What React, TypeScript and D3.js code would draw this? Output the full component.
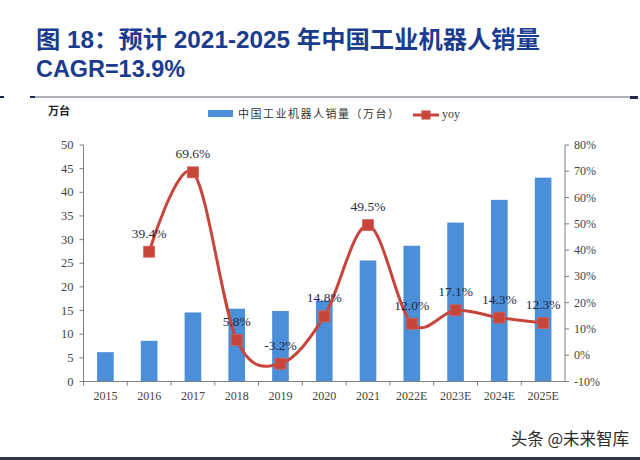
import React from 'react';
import * as d3 from 'd3';

const categories = ['2015', '2016', '2017', '2018', '2019', '2020', '2021', '2022E', '2023E', '2024E', '2025E'];
const sales = [6.2, 8.6, 14.6, 15.4, 14.9, 17.1, 25.6, 28.7, 33.6, 38.4, 43.1];
const yoy: (number | null)[] = [null, 39.4, 69.6, 5.8, -3.2, 14.8, 49.5, 12.0, 17.1, 14.3, 12.3];
const leftTicks = [0, 5, 10, 15, 20, 25, 30, 35, 40, 45, 50];
const rightTicks = [-10, 0, 10, 20, 30, 40, 50, 60, 70, 80];

const W = 640;
const H = 460;
const plot = { left: 83.5, right: 565, top: 145, bottom: 381.5 };
const serif = '"Liberation Serif", "Times New Roman", serif';
const cjk = '"Noto Sans CJK SC", sans-serif';
const BLUE = '#4a8fd8';
const RED = '#c8453c';
const LABEL = '#1f2a44';
const AXIS = '#7f7f7f';

const App: React.FC = () => {
  const x = d3.scaleBand<string>().domain(categories).range([plot.left, plot.right]).padding(0);
  const yL = d3.scaleLinear().domain([0, 50]).range([plot.bottom, plot.top]);
  const yR = d3.scaleLinear().domain([-10, 80]).range([plot.bottom, plot.top]);
  const step = x.step();
  const barW = step * 0.38;
  const cx = (c: string) => (x(c) as number) + step / 2;

  const pts = categories
    .map((c, i) => ({ c, v: yoy[i] }))
    .filter((d) => d.v !== null) as { c: string; v: number }[];

  const line = d3
    .line<{ c: string; v: number }>()
    .x((d) => cx(d.c))
    .y((d) => yR(d.v))
    .curve(d3.curveCardinal.tension(0));

  return (
    <svg width={W} height={H} style={{ display: 'block', position: 'absolute', left: 0, top: 0 }}>
      <rect width={W} height={H} fill="#fff" />
      {/* title */}
      <text x={36} y={48} fontFamily={'"Liberation Sans", Arial, "Noto Sans CJK SC", sans-serif'} fontWeight="bold"
        fontSize={24} fill="#1b3c8e" textLength={504} lengthAdjust="spacingAndGlyphs">
        图 18：预计 2021-2025 年中国工业机器人销量
      </text>
      <text x={36} y={77} fontFamily={'"Liberation Sans", Arial, sans-serif'} fontWeight="bold"
        fontSize={24} fill="#1b3c8e" textLength={149} lengthAdjust="spacingAndGlyphs">
        CAGR=13.9%
      </text>
      <line x1={30} x2={636} y1={97} y2={97} stroke="#5a6478" strokeWidth={1} />
      <rect x={0} y={96} width={4} height={2} fill="#1d2a4a" />
      <rect x={30} y={96} width={5} height={2} fill="#1d2a4a" />
      <rect x={630} y={96} width={8} height={3} fill="#1d2a4a" />

      {/* unit + legend */}
      <text x={48} y={115} fontFamily={cjk} fontWeight="bold" fontSize={11} fill="#222">万台</text>
      <rect x={208} y={110} width={25} height={7} fill={BLUE} />
      <text x={238} y={118} fontFamily={cjk} fontSize={11} fill="#333" letterSpacing={1.5}>中国工业机器人销量（万台）</text>
      <line x1={413} x2={439} y1={115} y2={115} stroke={RED} strokeWidth={3} />
      <rect x={421.5} y={110.5} width={9} height={9} fill={RED} />
      <text x={442} y={118} fontFamily={serif} fontSize={12} fill="#444">yoy</text>

      {/* bars */}
      {categories.map((c, i) => (
        <rect key={c} x={cx(c) - barW / 2} y={yL(sales[i])} width={barW} height={yL(0) - yL(sales[i])} fill={BLUE} />
      ))}

      {/* left axis */}
      <line x1={plot.left} x2={plot.left} y1={plot.top} y2={plot.bottom} stroke={AXIS} />
      {leftTicks.map((t) => (
        <g key={t}>
          <line x1={plot.left - 4} x2={plot.left} y1={yL(t)} y2={yL(t)} stroke={AXIS} />
          <text x={plot.left - 10} y={yL(t) + 4} textAnchor="end" fontFamily={serif} fontSize={12.5} fill="#444">{t}</text>
        </g>
      ))}

      {/* right axis */}
      <line x1={plot.right} x2={plot.right} y1={plot.top} y2={plot.bottom} stroke={AXIS} />
      {rightTicks.map((t) => (
        <g key={t}>
          <line x1={plot.right} x2={plot.right + 4} y1={yR(t)} y2={yR(t)} stroke={AXIS} />
          <text x={plot.right + 9} y={yR(t) + 4} textAnchor="start" fontFamily={serif} fontSize={12} fill="#444">{`${t}%`}</text>
        </g>
      ))}

      {/* x axis */}
      <line x1={plot.left} x2={plot.right} y1={plot.bottom} y2={plot.bottom} stroke={AXIS} />
      {categories.map((c) => (
        <line key={'t' + c} x1={x(c) as number} x2={x(c) as number} y1={plot.bottom} y2={plot.bottom + 4} stroke={AXIS} />
      ))}
      {categories.map((c) => (
        <text key={'l' + c} x={cx(c)} y={400} textAnchor="middle" fontFamily={serif} fontSize={12} fill="#444">{c}</text>
      ))}

      {/* yoy line */}
      <path d={line(pts) || ''} fill="none" stroke={RED} strokeWidth={3} />
      {pts.map((d) => (
        <rect key={'m' + d.c} x={cx(d.c) - 5.5} y={yR(d.v) - 5.5} width={11} height={11} fill={RED} stroke="#d0625a" strokeWidth={0.8} />
      ))}
      {pts.map((d) => (
        <text key={'v' + d.c} x={cx(d.c)} y={yR(d.v) - 14} textAnchor="middle" fontFamily={serif} fontSize={13.5} fill={LABEL}>
          {`${d.v.toFixed(1)}%`}
        </text>
      ))}

      {/* watermark */}
      <text x={629} y={445} textAnchor="end" fontFamily={cjk} fontSize={16.5} fill="#2b2b2b"
        stroke="#fff" strokeWidth={2} paintOrder="stroke">头条 @未来智库</text>
      <rect x={0} y={457} width={W} height={3} fill="#2e3a48" />
    </svg>
  );
};

export default App;
